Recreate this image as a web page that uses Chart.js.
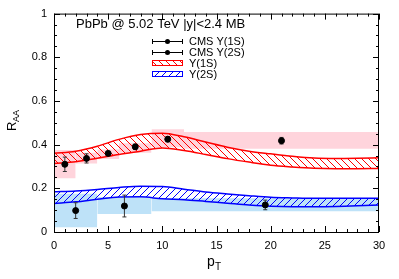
<!DOCTYPE html>
<html>
<head>
<meta charset="utf-8">
<script src="https://cdn.jsdelivr.net/npm/chart.js@4/dist/chart.umd.min.js"></script>
<style>
  html, body { margin: 0; padding: 0; background: #fff; }
</style>
</head>
<body>
<canvas id="chRaa" width="399" height="279"></canvas>
<script>
// CMS points (pT, RAA, stat error)
const ptY1S = [1, 3, 5, 7.5, 10.5, 21];
const raaY1S = [0.31, 0.337, 0.36, 0.39, 0.425, 0.418];
const errY1S = [0.033, 0.021, 0.008, 0.012, 0.012, 0.015];

const ptY2S = [2, 6.5, 19.5];
const raaY2S = [0.098, 0.119, 0.124];
const errY2S = [0.036, 0.05, 0.022];

// systematic boxes: bin edges, top and bottom of each box
const binsY1S = [0, 2, 4, 6, 9, 12, 30];
const boxHiY1S = [0.375, 0.363, 0.378, 0.406, 0.47, 0.458];
const boxLoY1S = [0.246, 0.314, 0.334, 0.363, 0.388, 0.381];

const binsY2S = [0, 4, 9, 30];
const boxHiY2S = [0.175, 0.16, 0.155];
const boxLoY2S = [0.022, 0.082, 0.095];

// model bands
const bandPt = [0, 2, 4, 6, 8, 10, 12, 14, 16, 18, 20, 22, 24, 26, 28, 30];
const bandHiY1S = [0.360, 0.370, 0.393, 0.424, 0.446, 0.452, 0.436, 0.412, 0.388, 0.370, 0.358, 0.347, 0.339, 0.337, 0.338, 0.340];
const bandLoY1S = [0.314, 0.322, 0.338, 0.355, 0.370, 0.385, 0.373, 0.355, 0.336, 0.320, 0.306, 0.298, 0.292, 0.290, 0.290, 0.291];
const bandHiY2S = [0.184, 0.188, 0.195, 0.204, 0.210, 0.208, 0.196, 0.183, 0.174, 0.166, 0.159, 0.156, 0.154, 0.154, 0.154, 0.154];
const bandLoY2S = [0.131, 0.138, 0.150, 0.160, 0.161, 0.152, 0.148, 0.140, 0.132, 0.124, 0.118, 0.116, 0.116, 0.117, 0.120, 0.124];

const xTicks = [0, 5, 10, 15, 20, 25, 30];
const yTicks = [0, 0.2, 0.4, 0.6, 0.8, 1];

const FONT = "'Liberation Sans', Arial, sans-serif";
const PINK = "rgb(255,212,220)";
const SKY = "rgb(190,226,248)";

function hatch(color, back) {
  var s = 7;
  var c = document.createElement("canvas");
  c.width = s; c.height = s;
  var g = c.getContext("2d");
  g.strokeStyle = color;
  g.lineWidth = 1;
  g.beginPath();
  for (var k = -1; k <= 2; k++) {
    if (back) { g.moveTo(0, k * s); g.lineTo(s, k * s + s); }
    else { g.moveTo(0, k * s); g.lineTo(s, k * s - s); }
  }
  g.stroke();
  return g.createPattern(c, "repeat");
}
const redHatch = hatch("#ff0000", true);
const blueHatch = hatch("#0000ff", false);

function pts(xs, ys) {
  return xs.map(function (v, i) { return { x: v, y: ys[i] }; });
}
function errBars(xs, ys, es) {
  var d = [];
  xs.forEach(function (v, i) {
    d.push({ x: v, y: ys[i] - es[i] }, { x: v, y: ys[i] + es[i] }, { x: v, y: null });
  });
  return d;
}

var datasets = [];

// each box = a top line and a bottom line over its bin, filled between
function addBoxes(edges, hi, lo, color) {
  hi.forEach(function (h, i) {
    var x0 = edges[i], x1 = edges[i + 1];
    var n = datasets.length;
    datasets.push({ data: [{ x: x0, y: h }, { x: x1, y: h }], fill: n + 1, backgroundColor: color, borderWidth: 0, pointRadius: 0, order: 10 });
    datasets.push({ data: [{ x: x0, y: lo[i] }, { x: x1, y: lo[i] }], fill: false, borderWidth: 0, pointRadius: 0, order: 10 });
  });
}
addBoxes(binsY1S, boxHiY1S, boxLoY1S, PINK);
addBoxes(binsY2S, boxHiY2S, boxLoY2S, SKY);

function addBand(hi, lo, pattern, color) {
  var n = datasets.length;
  var st = { borderWidth: 1.5, pointRadius: 0, cubicInterpolationMode: "monotone", borderColor: color, order: 5 };
  datasets.push(Object.assign({ data: pts(bandPt, hi), fill: n + 1, backgroundColor: pattern }, st));
  datasets.push(Object.assign({ data: pts(bandPt, lo), fill: false }, st));
}
addBand(bandHiY1S, bandLoY1S, redHatch, "#ff0000");
addBand(bandHiY2S, bandLoY2S, blueHatch, "#0000ff");

const errStyle = { borderColor: "#333", borderWidth: 1, pointStyle: "line", pointRadius: 2, pointBorderWidth: 1, pointBorderColor: "#333", spanGaps: false, fill: false, order: 2 };
const dotStyle = { showLine: false, pointRadius: 3, pointBackgroundColor: "#000", pointBorderColor: "#000", order: 1 };
datasets.push(Object.assign({ data: errBars(ptY1S, raaY1S, errY1S) }, errStyle));
datasets.push(Object.assign({ data: errBars(ptY2S, raaY2S, errY2S) }, errStyle));
datasets.push(Object.assign({ data: pts(ptY1S, raaY1S) }, dotStyle));
datasets.push(Object.assign({ data: pts(ptY2S, raaY2S) }, dotStyle));

// frame, inward ticks, header, legend, axis titles
const decor = {
  id: "decor",
  afterDatasetsDraw: function (chart) {
    var ctx = chart.ctx, a = chart.chartArea, x = chart.scales.x, y = chart.scales.y;
    ctx.save();
    ctx.strokeStyle = "#000";
    ctx.lineWidth = 1;
    ctx.strokeRect(a.left + 0.5, a.top + 0.5, a.right - a.left - 1, a.bottom - a.top);
    ctx.beginPath();
    for (var i = 0; i <= 30; i++) {
      var px = Math.round(x.getPixelForValue(i)) + 0.5;
      var len = i % 5 === 0 ? 6 : 3;
      ctx.moveTo(px, a.bottom); ctx.lineTo(px, a.bottom - len);
      ctx.moveTo(px, a.top); ctx.lineTo(px, a.top + len);
    }
    for (var j = 0; j <= 20; j++) {
      var py = Math.round(y.getPixelForValue(j * 0.05)) + 0.5;
      var l2 = j % 4 === 0 ? 6 : 3;
      ctx.moveTo(a.left, py); ctx.lineTo(a.left + l2, py);
      ctx.moveTo(a.right, py); ctx.lineTo(a.right - l2, py);
    }
    ctx.stroke();
    ctx.restore();
  },
  afterDraw: function (chart) {
    var ctx = chart.ctx;
    ctx.save();
    ctx.fillStyle = "#000";
    ctx.textBaseline = "middle";
    ctx.font = "13px " + FONT;
    ctx.fillText("PbPb @ 5.02 TeV |y|<2.4 MB", 76, 24);

    // legend
    ctx.font = "11px " + FONT;
    var lx0 = 152, lx1 = 183, tx = 189;
    [41, 52].forEach(function (ly, k) {
      ctx.strokeStyle = "#000";
      ctx.lineWidth = 1;
      ctx.beginPath();
      ctx.moveTo(lx0, ly + 0.5); ctx.lineTo(lx1, ly + 0.5);
      ctx.moveTo(lx0 + 0.5, ly - 2); ctx.lineTo(lx0 + 0.5, ly + 3);
      ctx.moveTo(lx1 - 0.5, ly - 2); ctx.lineTo(lx1 - 0.5, ly + 3);
      ctx.stroke();
      ctx.beginPath();
      ctx.arc((lx0 + lx1) / 2, ly + 0.5, 2.5, 0, 2 * Math.PI);
      ctx.fill();
      ctx.fillText(k === 0 ? "CMS \u03a5(1S)" : "CMS \u03a5(2S)", tx, ly + 1);
    });
    [[60, redHatch, "#ff0000", "\u03a5(1S)"], [71, blueHatch, "#0000ff", "\u03a5(2S)"]].forEach(function (e) {
      ctx.fillStyle = e[1];
      ctx.fillRect(lx0, e[0], lx1 - lx0, 6);
      ctx.strokeStyle = e[2];
      ctx.strokeRect(lx0 + 0.5, e[0] + 0.5, lx1 - lx0 - 1, 5);
      ctx.fillStyle = "#000";
      ctx.fillText(e[3], tx, e[0] + 3.5);
    });

    // axis titles
    ctx.textBaseline = "alphabetic";
    ctx.font = "14px " + FONT;
    ctx.fillText("p", 207, 266);
    ctx.font = "10px " + FONT;
    ctx.fillText("T", 215, 270);

    ctx.translate(16, 131);
    ctx.rotate(-Math.PI / 2);
    ctx.font = "13px " + FONT;
    ctx.fillText("R", 0, 0);
    ctx.font = "9px " + FONT;
    ctx.fillText("AA", 9, 3);
    ctx.restore();
  }
};

Chart.defaults.font.family = FONT;
Chart.defaults.font.size = 11;
Chart.defaults.color = "#000";

new Chart(document.getElementById("chRaa"), {
  type: "line",
  data: { datasets: datasets },
  options: {
    responsive: false,
    animation: false,
    layout: { padding: { top: 13, right: 20, left: 0, bottom: 0 } },
    plugins: { legend: { display: false }, tooltip: { enabled: false } },
    scales: {
      x: {
        type: "linear", min: 0, max: 30,
        afterBuildTicks: function (s) { s.ticks = xTicks.map(function (v) { return { value: v }; }); },
        afterFit: function (s) { s.height = 47; },
        grid: { display: false, drawTicks: false },
        border: { display: false },
        ticks: { padding: 7, maxRotation: 0 }
      },
      y: {
        min: 0, max: 1,
        afterBuildTicks: function (s) { s.ticks = yTicks.map(function (v) { return { value: v }; }); },
        afterFit: function (s) { s.width = 54; },
        grid: { display: false, drawTicks: false },
        border: { display: false },
        ticks: {
          padding: 7,
          callback: function (v) { return (v === 0 || v === 1) ? String(v) : v.toFixed(1); }
        }
      }
    }
  },
  plugins: [decor]
});
</script>
</body>
</html>
